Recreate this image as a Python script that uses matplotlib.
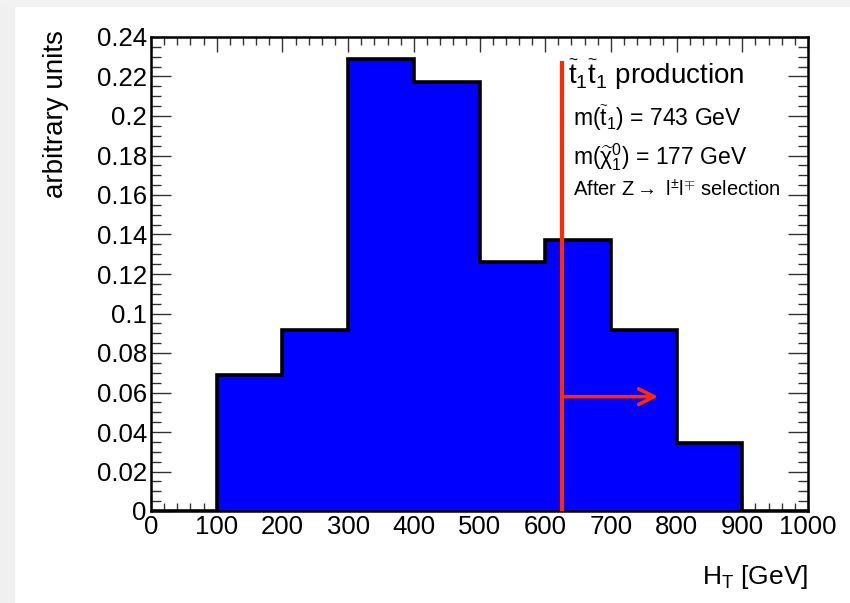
import matplotlib
matplotlib.use("Agg")
import matplotlib.pyplot as plt
import numpy as np
from matplotlib.ticker import MultipleLocator, FixedFormatter, FixedLocator
from matplotlib.patches import Rectangle

plt.rcParams['font.family'] = ['Liberation Sans', 'DejaVu Sans']
plt.rcParams['mathtext.fontset'] = 'custom'
plt.rcParams['mathtext.rm'] = 'Liberation Sans'
plt.rcParams['mathtext.it'] = 'Liberation Sans'
plt.rcParams['mathtext.sf'] = 'Liberation Sans'

# Data
bin_edges = [0, 100, 200, 300, 400, 500, 600, 700, 800, 900, 1000]
bin_values = [0.0, 0.0687, 0.0916, 0.2287, 0.2171, 0.1261, 0.1372, 0.0916, 0.0344, 0.0]
cut_value = 626
cut_top = 0.227
arrow_y = 0.0579
arrow_end = 772
y_ticks = [0, 0.02, 0.04, 0.06, 0.08, 0.1, 0.12, 0.14, 0.16, 0.18, 0.2, 0.22, 0.24]
y_tick_labels = ['0', '0.02', '0.04', '0.06', '0.08', '0.1', '0.12', '0.14', '0.16', '0.18', '0.2', '0.22', '0.24']
x_ticks = [0, 100, 200, 300, 400, 500, 600, 700, 800, 900, 1000]

fig = plt.figure(figsize=(8.5, 6.03), dpi=100)
# light screenshot margins (left and top)
fig.patches.append(Rectangle((0, 0), 14/850, 1, transform=fig.transFigure,
                             color='#f0f0f0', zorder=0))
fig.patches.append(Rectangle((0, 1 - 6/603), 1, 6/603, transform=fig.transFigure,
                             color='#f2f2f2', zorder=0))

ax = fig.add_axes([151/850, 92/603, 657/850, 474/603])

ax.stairs(bin_values, bin_edges, fill=True, color='#0000ff', zorder=2)
ax.stairs(bin_values, bin_edges, color='black', lw=2.6, zorder=3)

ax.plot([cut_value, cut_value], [0, cut_top], color='#ff2a00', lw=3, zorder=4)
ax.annotate('', xy=(arrow_end, arrow_y), xytext=(cut_value, arrow_y),
            arrowprops=dict(arrowstyle='->', color='#ff2a00', lw=2.6,
                            mutation_scale=28, shrinkA=0, shrinkB=0), zorder=5)

ax.set_xlim(0, 1000)
ax.set_ylim(0, 0.24)
ax.yaxis.set_major_locator(FixedLocator(y_ticks))
ax.yaxis.set_major_formatter(FixedFormatter(y_tick_labels))
ax.yaxis.set_minor_locator(MultipleLocator(0.005))
ax.xaxis.set_major_locator(FixedLocator(x_ticks))
ax.xaxis.set_minor_locator(MultipleLocator(20))

ax.tick_params(which='both', direction='in', top=True, right=True, labelsize=18.5,
               width=1.0, color='#333333')
ax.tick_params(axis='y', which='major', length=14.4, pad=3)
ax.tick_params(axis='y', which='minor', length=7.2)
ax.tick_params(axis='x', which='major', length=10.8, pad=3)
ax.tick_params(axis='x', which='minor', length=5.8)
for s in ax.spines.values():
    s.set_linewidth(1.8)

ax.set_ylabel('arbitrary units', fontsize=20, loc='top')
ax.yaxis.set_label_coords(-0.125, 1.015)
ax.set_xlabel(r'H$_{\mathrm{T}}$ [GeV]', fontsize=19, loc='right')
ax.xaxis.set_label_coords(1.0, -0.11)

ax.text(0.635, 0.92, r'$\widetilde{\mathrm{t}}_1\widetilde{\mathrm{t}}_1$ production',
        transform=ax.transAxes, fontsize=20, va='center', ha='left')
ax.text(0.643, 0.829, r'm($\widetilde{\mathrm{t}}_1$) = 743 GeV',
        transform=ax.transAxes, fontsize=16.5, va='center', ha='left')
ax.text(0.643, 0.747, r'm($\widetilde{\chi}_1^0$) = 177 GeV',
        transform=ax.transAxes, fontsize=16.5, va='center', ha='left')
ax.text(0.643, 0.677, r'After Z$\rightarrow$ l$^{\pm}$l$^{\mp}$ selection',
        transform=ax.transAxes, fontsize=14.5, va='center', ha='left')

fig.savefig('out.png', dpi=100)
